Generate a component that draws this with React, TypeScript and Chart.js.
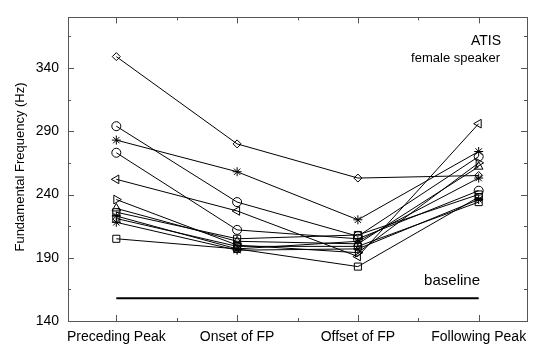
import React, { useEffect, useRef } from "react";
import { Chart, registerables } from "chart.js";
Chart.register(...registerables);

const categories = ["Preceding Peak", "Onset of FP", "Offset of FP", "Following Peak"];
const yTicks = [140, 190, 240, 290, 340];
const yMinorTicks = [165, 215, 265, 315, 365];
const xMinorTicks = [0.5, 1.5, 2.5];
const baselineValues = [158, 158];
const baselineCats = [0, 3];

const diamondA = [349, 280, 253, 255];
const circleA = [294, 234, 207, 270];
const starA = [283, 258, 220, 274];
const circleB = [273, 212, 205, 243];
const triLeft = [252, 227, 191, 296];
const triRight = [236, 200, 194, 265];
const triUp = [229, 203, 201, 262];
const squareA = [226, 205, 208, 240];
const starB = [223, 197, 203, 253];
const squareB = [221, 199, 199, 234];
const starC = [218, 196, 197, 236];
const squareC = [205, 197, 183, 238];

const FONT = "'Liberation Sans', Arial, Helvetica, sans-serif";

const series = [
  { data: diamondA, style: "rectRot", rot: 0, r: 4 },
  { data: circleA, style: "circle", rot: 0, r: 4.5 },
  { data: starA, style: "star", rot: 0, r: 4.5 },
  { data: circleB, style: "circle", rot: 0, r: 4.5 },
  { data: triLeft, style: "triangle", rot: -90, r: 5 },
  { data: triRight, style: "triangle", rot: 90, r: 5 },
  { data: triUp, style: "triangle", rot: 0, r: 5 },
  { data: squareA, style: "rect", rot: 0, r: 5 },
  { data: starB, style: "star", rot: 0, r: 4.5 },
  { data: squareB, style: "rect", rot: 0, r: 5 },
  { data: starC, style: "star", rot: 0, r: 4.5 },
  { data: squareC, style: "rect", rot: 0, r: 5 },
];

const framePlugin = {
  id: "frame",
  afterDraw(chart: any) {
    const { ctx, chartArea: a, scales } = chart;
    const x = scales.x;
    const y = scales.y;
    ctx.save();
    ctx.strokeStyle = "#555";
    ctx.lineWidth = 1;
    ctx.strokeRect(Math.round(a.left) + 0.5, Math.round(a.top) + 0.5, Math.round(a.right - a.left), Math.round(a.bottom - a.top));
    ctx.beginPath();
    const yt = (v: number, len: number) => {
      const py = Math.round(y.getPixelForValue(v)) + 0.5;
      ctx.moveTo(a.left, py); ctx.lineTo(a.left + len, py);
      ctx.moveTo(a.right, py); ctx.lineTo(a.right - len, py);
    };
    const xt = (v: number, len: number) => {
      const px = Math.round(x.getPixelForValue(v)) + 0.5;
      ctx.moveTo(px, a.bottom); ctx.lineTo(px, a.bottom - len);
      ctx.moveTo(px, a.top); ctx.lineTo(px, a.top + len);
    };
    yTicks.forEach((v) => yt(v, 6));
    yMinorTicks.forEach((v) => yt(v, 3));
    categories.forEach((_, i) => xt(i, 6));
    xMinorTicks.forEach((v) => xt(v, 3));
    ctx.stroke();

    ctx.fillStyle = "#000";
    ctx.textAlign = "right";
    ctx.textBaseline = "middle";
    ctx.font = `14px ${FONT}`;
    ctx.fillText("ATIS", 501, 41);
    ctx.font = `13px ${FONT}`;
    ctx.fillText("female speaker", 500, 58);
    ctx.font = `15px ${FONT}`;
    ctx.fillText("baseline", 480, 281);

    ctx.save();
    ctx.translate(20, 167);
    ctx.rotate(-Math.PI / 2);
    ctx.textAlign = "center";
    ctx.font = `13px ${FONT}`;
    ctx.fillText("Fundamental Frequency (Hz)", 0, 0);
    ctx.restore();
    ctx.restore();
  },
};

export default function App() {
  const ref = useRef<HTMLCanvasElement | null>(null);
  useEffect(() => {
    document.body.style.margin = "0";
    const canvas = ref.current;
    if (!canvas) return;
    const datasets: any[] = series.map((s) => ({
      data: s.data.map((v, i) => ({ x: i, y: v })),
      borderColor: "#000",
      borderWidth: 1,
      backgroundColor: "rgba(0,0,0,0)",
      pointStyle: s.style,
      rotation: s.rot,
      pointRadius: s.r,
      pointBorderColor: "#000",
      pointBorderWidth: 1,
      pointBackgroundColor: "rgba(0,0,0,0)",
      tension: 0,
      fill: false,
    }));
    datasets.push({
      data: baselineValues.map((v, i) => ({ x: baselineCats[i], y: v })),
      borderColor: "#000",
      borderWidth: 2,
      pointRadius: 0,
      fill: false,
    });
    const chart = new Chart(canvas, {
      type: "line",
      data: { datasets },
      options: {
        animation: false,
        responsive: false,
        devicePixelRatio: 1,
        layout: { padding: { top: 12, right: 10, left: 0, bottom: 0 } },
        plugins: { legend: { display: false }, tooltip: { enabled: false } },
        scales: {
          x: {
            type: "linear",
            min: -0.4,
            max: 3.4,
            grid: { display: false, drawTicks: false },
            border: { display: false },
            afterBuildTicks: (s: any) => {
              s.ticks = categories.map((_, i) => ({ value: i }));
            },
            afterFit: (s: any) => {
              s.height = 24;
            },
            ticks: {
              callback: (v: any) => categories[Number(v)] ?? "",
              padding: 8,
              autoSkip: false,
              maxRotation: 0,
              color: "#000",
              font: { family: FONT, size: 14 },
            },
          },
          y: {
            type: "linear",
            min: 140,
            max: 380,
            grid: { display: false, drawTicks: false },
            border: { display: false },
            afterBuildTicks: (s: any) => {
              s.ticks = yTicks.map((v) => ({ value: v }));
            },
            afterFit: (s: any) => {
              s.width = 68;
            },
            ticks: {
              padding: 9,
              color: "#000",
              font: { family: FONT, size: 14 },
            },
          },
        },
      } as any,
      plugins: [framePlugin],
    });
    return () => chart.destroy();
  }, []);
  return (
    <div style={{ width: 537, height: 345 }}>
      <canvas ref={ref} width={537} height={345} style={{ display: "block", width: 537, height: 345 }} />
    </div>
  );
}
